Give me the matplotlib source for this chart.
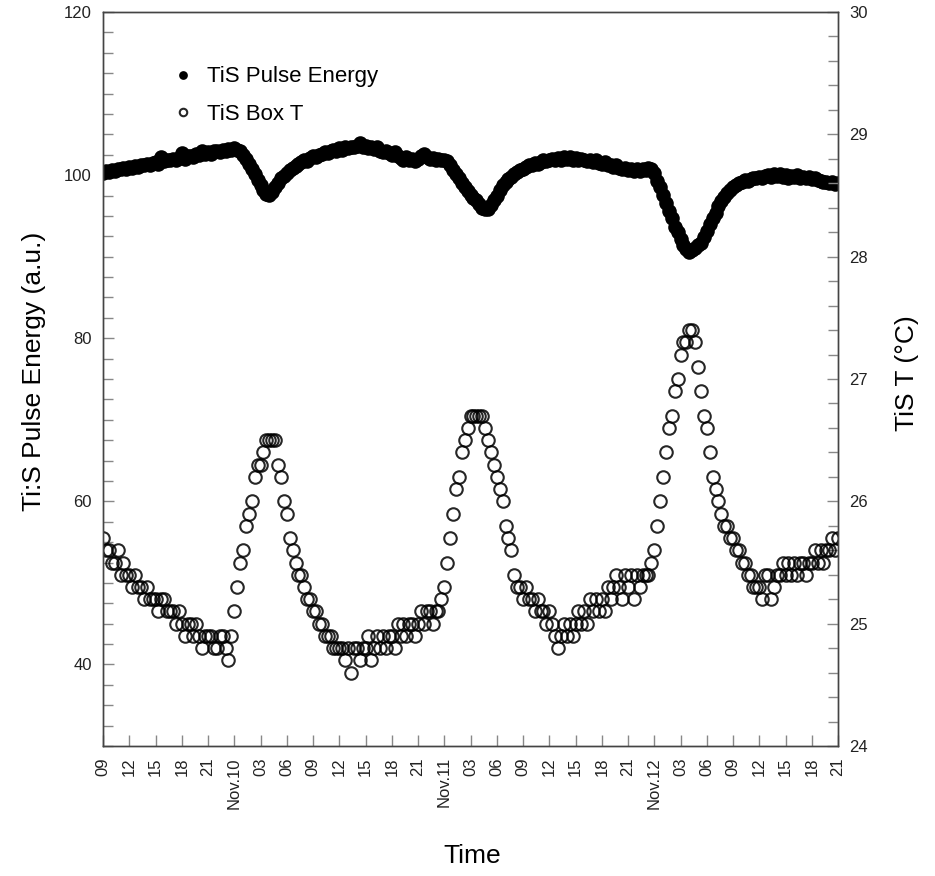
import numpy as np
import pandas as pd
import matplotlib
matplotlib.use("Agg")
import matplotlib.pyplot as plt
import matplotlib.dates as mdates
from matplotlib.ticker import MultipleLocator, FuncFormatter

plt.rcParams['font.family'] = ['Liberation Sans', 'DejaVu Sans']

# logger writes one sample every 20 min, Nov 9 09:00 -> Nov 12 21:00
start_time = "2004-11-09 09:00"
sample_step = "20min"

# TiS pulse energy (a.u.), left axis
pulse_energy = [
    100.3, 100.5, 100.4, 100.6, 100.5, 100.8, 100.7, 100.9, 100.8, 101.0, 100.9, 101.1,
    101.0, 101.3, 101.2, 101.4, 101.2, 101.5, 101.6, 101.4, 102.2, 101.7, 101.9, 101.8,
    102.0, 101.8, 102.1, 102.7, 102.0, 102.3, 102.4, 102.2, 102.6, 102.5, 103.0, 102.6,
    102.8, 102.6, 102.9, 103.0, 102.8, 103.1, 102.9, 103.2, 103.1, 103.3, 103.1, 102.9,
    102.5, 102.0, 101.4, 100.8, 100.1, 99.4, 98.8, 98.2, 97.7, 97.6, 97.9, 98.5,
    99.0, 99.6, 99.9, 100.2, 100.6, 100.9, 101.1, 101.4, 101.6, 101.8, 101.7, 102.1,
    102.3, 102.2, 102.5, 102.6, 102.8, 102.7, 102.9, 103.1, 103.0, 103.3, 103.1, 103.4,
    103.3, 103.5, 103.4, 103.6, 103.9, 103.5, 103.6, 103.3, 103.5, 103.2, 103.4, 103.0,
    102.8, 103.0, 102.7, 102.5, 102.8, 102.3, 102.1, 101.9, 102.2, 101.8, 102.0, 101.7,
    102.0, 102.3, 102.6, 102.2, 102.0, 102.1, 101.9, 102.0, 101.8, 101.9, 101.7, 101.2,
    100.6, 100.1, 99.6, 99.0, 98.6, 98.0, 97.6, 97.2, 96.9, 96.4, 96.0, 95.8,
    95.9, 96.3, 96.9, 97.5, 98.2, 98.8, 99.2, 99.5, 99.8, 100.1, 100.4, 100.6,
    100.8, 101.0, 101.2, 101.3, 101.5, 101.4, 101.6, 101.8, 101.7, 101.9, 102.0, 101.8,
    102.1, 101.9, 102.2, 102.0, 102.2, 101.9, 102.1, 101.8, 102.0, 101.9, 101.7, 101.9,
    101.6, 101.8, 101.5, 101.4, 101.6, 101.3, 101.2, 101.0, 101.2, 100.9, 100.7, 100.9,
    100.6, 100.8, 100.5, 100.7, 100.5, 100.8, 100.6, 100.9, 100.7, 100.2, 99.3, 98.5,
    97.6, 96.6, 95.6, 94.8, 93.6, 93.0, 92.2, 91.4, 90.9, 90.6, 90.8, 91.1,
    91.4, 91.7, 92.4, 93.2, 94.0, 94.7, 95.4, 96.2, 96.8, 97.3, 97.8, 98.2,
    98.5, 98.8, 99.0, 99.2, 99.4, 99.3, 99.5, 99.7, 99.6, 99.8, 99.6, 99.9,
    100.0, 99.8, 100.1, 99.9, 100.1, 99.8, 100.0, 99.7, 99.9, 99.8, 100.0, 99.7,
    99.8, 99.6, 99.8, 99.5, 99.7, 99.4, 99.3, 99.1, 99.2, 99.0, 99.1, 98.9,
    99.0,
]

# TiS box temperature (degC), right axis, 0.1 degC resolution
box_temp = [
    25.7, 25.6, 25.6, 25.5, 25.5, 25.6, 25.4, 25.5, 25.4, 25.4, 25.3, 25.4,
    25.3, 25.3, 25.2, 25.3, 25.2, 25.2, 25.2, 25.1, 25.2, 25.2, 25.1, 25.1,
    25.1, 25.0, 25.1, 25.0, 24.9, 25.0, 25.0, 24.9, 25.0, 24.9, 24.8, 24.9,
    24.9, 24.9, 24.8, 24.8, 24.9, 24.9, 24.8, 24.7, 24.9, 25.1, 25.3, 25.5,
    25.6, 25.8, 25.9, 26.0, 26.2, 26.3, 26.3, 26.4, 26.5, 26.5, 26.5, 26.5,
    26.3, 26.2, 26.0, 25.9, 25.7, 25.6, 25.5, 25.4, 25.4, 25.3, 25.2, 25.2,
    25.1, 25.1, 25.0, 25.0, 24.9, 24.9, 24.9, 24.8, 24.8, 24.8, 24.8, 24.7,
    24.8, 24.6, 24.8, 24.8, 24.7, 24.8, 24.8, 24.9, 24.7, 24.8, 24.9, 24.8,
    24.9, 24.8, 24.9, 24.9, 24.8, 25.0, 24.9, 25.0, 24.9, 25.0, 25.0, 24.9,
    25.0, 25.1, 25.0, 25.1, 25.1, 25.0, 25.1, 25.1, 25.2, 25.3, 25.5, 25.7,
    25.9, 26.1, 26.2, 26.4, 26.5, 26.6, 26.7, 26.7, 26.7, 26.7, 26.7, 26.6,
    26.5, 26.4, 26.3, 26.2, 26.1, 26.0, 25.8, 25.7, 25.6, 25.4, 25.3, 25.3,
    25.2, 25.3, 25.2, 25.2, 25.1, 25.2, 25.1, 25.1, 25.0, 25.1, 25.0, 24.9,
    24.8, 24.9, 25.0, 24.9, 25.0, 24.9, 25.0, 25.1, 25.0, 25.1, 25.0, 25.2,
    25.1, 25.2, 25.1, 25.2, 25.1, 25.3, 25.2, 25.3, 25.4, 25.3, 25.2, 25.4,
    25.3, 25.4, 25.2, 25.4, 25.3, 25.4, 25.4, 25.4, 25.5, 25.6, 25.8, 26.0,
    26.2, 26.4, 26.6, 26.7, 26.9, 27.0, 27.2, 27.3, 27.3, 27.4, 27.4, 27.3,
    27.1, 26.9, 26.7, 26.6, 26.4, 26.2, 26.1, 26.0, 25.9, 25.8, 25.8, 25.7,
    25.7, 25.6, 25.6, 25.5, 25.5, 25.4, 25.4, 25.3, 25.3, 25.3, 25.2, 25.4,
    25.4, 25.2, 25.3, 25.4, 25.4, 25.5, 25.4, 25.5, 25.4, 25.5, 25.4, 25.5,
    25.5, 25.4, 25.5, 25.5, 25.6, 25.5, 25.6, 25.5, 25.6, 25.6, 25.7, 25.6,
    25.7,
]

times = pd.date_range(start_time, periods=len(pulse_energy), freq=sample_step)

fig = plt.figure(figsize=(9.35, 8.76), dpi=100)
ax = fig.add_axes([0.1102, 0.1484, 0.7861, 0.8379])
ax2 = ax.twinx()

h1, = ax.plot(times, pulse_energy, 'o', color='black', markersize=10.5,
              markeredgewidth=0, label="TiS Pulse Energy")
h2, = ax2.plot(times, box_temp, 'o', markerfacecolor='none', markeredgecolor='black',
               markeredgewidth=1.5, markersize=9, alpha=0.85, label="TiS Box T")

ax.set_xlim(times[0], times[-1])
ax.set_ylim(30, 120)
ax2.set_ylim(24, 30)

# x ticks every 3 hours, midnight gets the date
def hour_label(x, pos):
    d = mdates.num2date(x)
    if d.hour == 0:
        return d.strftime("%b.%d")
    return d.strftime("%H")

ax.xaxis.set_major_locator(mdates.HourLocator(byhour=range(0, 24, 3)))
ax.xaxis.set_major_formatter(FuncFormatter(hour_label))
for lbl in ax.get_xticklabels():
    lbl.set_rotation(90)

ax.yaxis.set_major_locator(MultipleLocator(20))
ax.yaxis.set_minor_locator(MultipleLocator(2.5))
ax2.yaxis.set_major_locator(MultipleLocator(1))
ax2.yaxis.set_minor_locator(MultipleLocator(0.2))

for a in (ax, ax2):
    a.tick_params(which='both', direction='in', color='#888888', labelsize=12,
                  labelcolor='#222222')
    a.tick_params(which='major', length=8, width=1)
    a.tick_params(which='minor', length=7, width=1)
    for sp in a.spines.values():
        sp.set_color('#444444')
        sp.set_linewidth(1)
ax.tick_params(axis='x', pad=8)
ax.tick_params(axis='y', pad=8)
ax2.tick_params(axis='y', pad=8)

ax.set_xlabel("Time", fontsize=19)
ax.set_ylabel("Ti:S Pulse Energy (a.u.)", fontsize=19)
ax2.set_ylabel("TiS T (\u00b0C)", fontsize=19)
ax.xaxis.set_label_coords(0.502, -0.1335)
ax.yaxis.set_label_coords(-0.0776, 0.51)
ax2.yaxis.set_label_coords(1.0776, 0.508)

ax2.legend([h1, h2], [h1.get_label(), h2.get_label()], loc='upper left',
           bbox_to_anchor=(0.081, 0.938), borderaxespad=0, frameon=False,
           fontsize=16, markerscale=0.6, handlelength=1.0, handletextpad=0.6,
           labelspacing=0.75)

fig.savefig("out.png", dpi=100)
